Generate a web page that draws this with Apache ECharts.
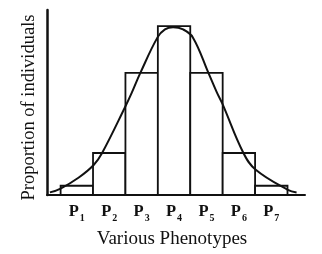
<!DOCTYPE html>
<html><head><meta charset="utf-8">
<script src="https://cdn.jsdelivr.net/npm/echarts@6/dist/echarts.min.js"></script>
<style>html,body{margin:0;padding:0;background:#fff}#c{width:322px;height:254px}</style>
</head><body><div id="c"></div>
<script>
// Phenotype classes (x positions 1..7) and bar heights (relative proportion, 0-100)
const categories = ['1','2','3','4','5','6','7'];
const barValues = [5, 22.7, 66, 91.3, 66, 22.7, 5];
// Curve points: x position, height
const curveX = [0.17, 0.50, 1.05, 1.52, 1.78, 2.49, 2.70, 2.96, 3.49, 3.72, 3.97, 4.28, 4.58, 5.06, 5.32, 5.49, 6.14, 6.52, 7.51, 7.78];
const curveY = [1.4, 3.5, 9.3, 16.2, 22.7, 47.6, 55.5, 66.0, 85.2, 89.5, 90.7, 89.5, 85.2, 66.0, 55.5, 49.4, 22.7, 13.6, 2.8, 1.4];
const xTitle = 'Various Phenotypes';
const yTitle = 'Proportion of individuals';

const serif = '"Liberation Serif","DejaVu Serif",serif';
const chart = echarts.init(document.getElementById('c'), null, {renderer: 'canvas'});
chart.setOption({
  backgroundColor: '#fff',
  animation: false,
  grid: {left: 47, top: 10, right: 17, bottom: 53},
  xAxis: {
    type: 'value', min: 0.08, max: 8.04,
    axisLine: {show: true, lineStyle: {color: '#111', width: 2}},
    axisTick: {show: false},
    splitLine: {show: false},
    axisLabel: {
      customValues: categories.map(Number),
      margin: 6,
      formatter: v => '{p|P}{s|' + v + '}',
      rich: {
        p: {fontFamily: serif, fontWeight: 'bold', fontSize: 16.5, color: '#111', lineHeight: 19, verticalAlign: 'bottom'},
        s: {fontFamily: serif, fontWeight: 'bold', fontSize: 10, color: '#111', lineHeight: 19, verticalAlign: 'bottom', padding: [0, 0, -3, 1]}
      }
    },
    name: xTitle, nameLocation: 'middle', nameGap: 35,
    nameTextStyle: {fontFamily: serif, fontSize: 19, color: '#111', padding: [0, 8, 0, 0]}
  },
  yAxis: {
    type: 'value', min: 0, max: 100,
    axisLine: {show: true, lineStyle: {color: '#111', width: 2.5}},
    axisTick: {show: false}, axisLabel: {show: false}, splitLine: {show: false},
    name: yTitle, nameLocation: 'middle', nameGap: 8, nameRotate: 90,
    nameTextStyle: {fontFamily: serif, fontSize: 18.5, color: '#111', padding: [0, 10, 0, 0]}
  },
  series: [
    {
      type: 'custom',
      data: barValues.map((v, i) => [Number(categories[i]), v]),
      renderItem: (params, api) => {
        const x = api.value(0), y = api.value(1);
        const a = api.coord([x - 0.5, y]);
        const b = api.coord([x + 0.5, 0]);
        return {type: 'rect', shape: {x: a[0], y: a[1], width: b[0] - a[0], height: b[1] - a[1]},
          style: {fill: '#fff', stroke: '#111', lineWidth: 1.8}};
      },
      z: 2
    },
    {
      type: 'line',
      data: curveX.map((x, i) => [x, curveY[i]]),
      smooth: 0.4, symbol: 'none',
      lineStyle: {color: '#111', width: 2},
      z: 3
    }
  ]
});
</script></body></html>
